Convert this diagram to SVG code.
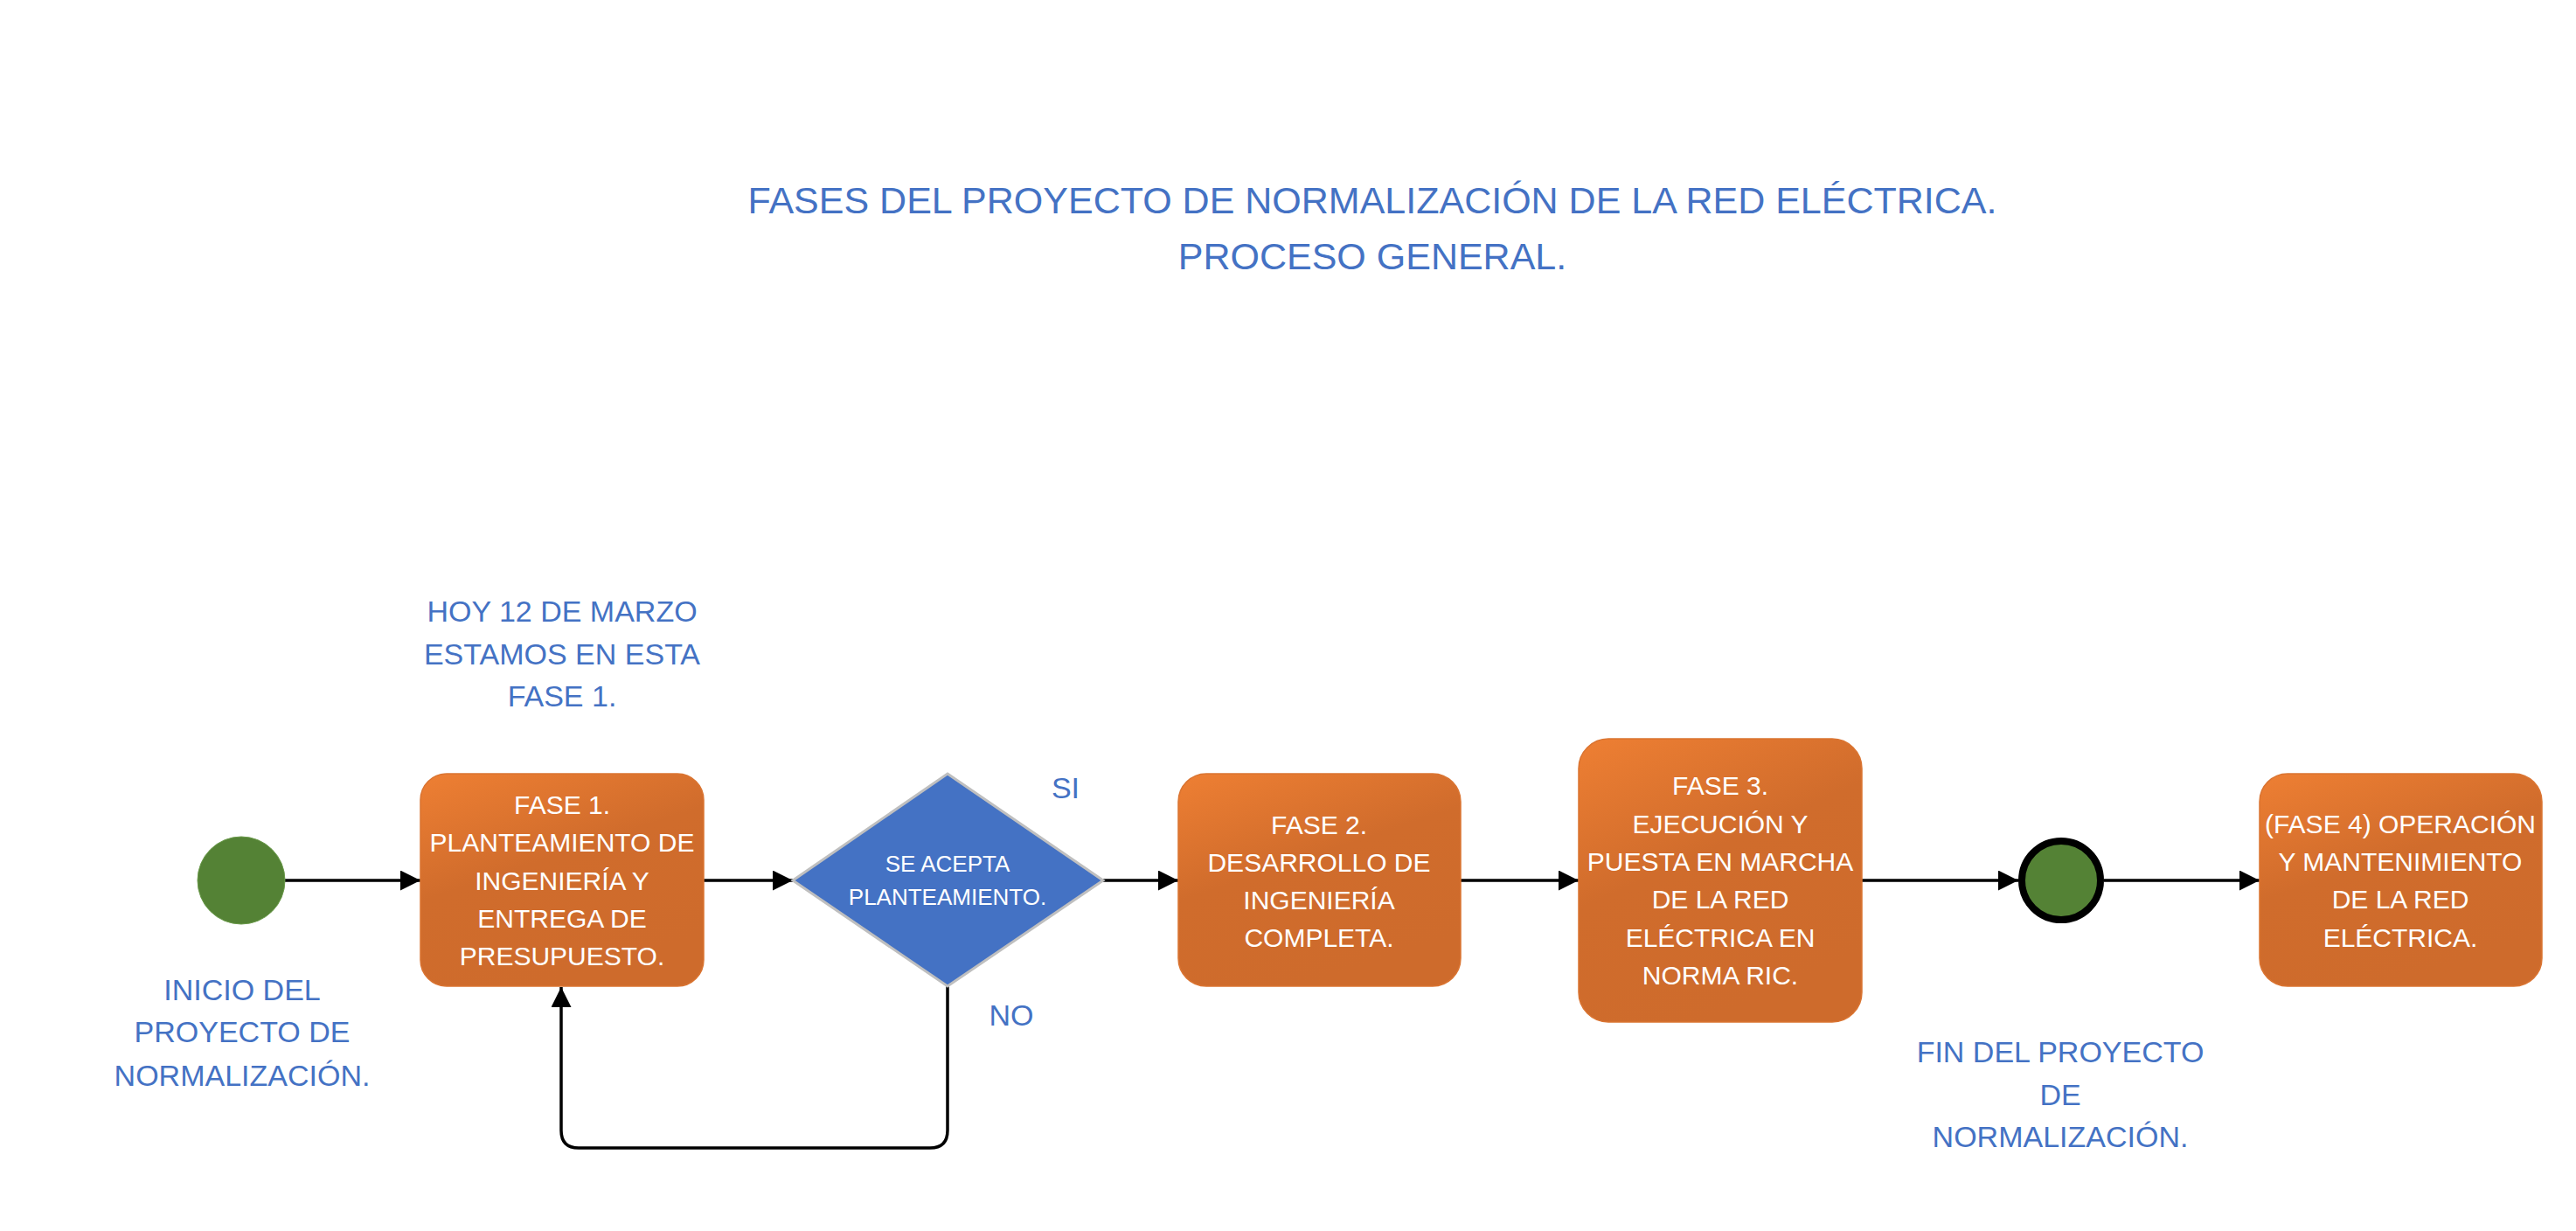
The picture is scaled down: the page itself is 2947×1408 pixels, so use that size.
<svg xmlns="http://www.w3.org/2000/svg" width="2947" height="1408" viewBox="0 0 2947 1408">
<style>
.lbl{font-family:"Liberation Sans",Arial,sans-serif;fill:#4472C4;text-anchor:middle;font-size:34px}
.ttl{font-family:"Liberation Sans",Arial,sans-serif;fill:#4472C4;text-anchor:middle;font-size:43px}
.bt{font-family:"Liberation Sans",Arial,sans-serif;fill:#FFFFFF;text-anchor:middle;font-size:30px}
.dt{font-family:"Liberation Sans",Arial,sans-serif;fill:#FFFFFF;text-anchor:middle;font-size:26px}
.box{fill:url(#og);stroke:#DA7431;stroke-width:1.5}
.con{fill:none;stroke:#000;stroke-width:3.5}
</style>
<defs>
<linearGradient id="og" x1="0" y1="0" x2="0.45" y2="1">
<stop offset="0" stop-color="#EE7F33"/>
<stop offset="0.5" stop-color="#D06C2C"/>
<stop offset="1" stop-color="#CE6B2C"/>
</linearGradient>
<marker id="ah" markerUnits="userSpaceOnUse" markerWidth="24" markerHeight="24" refX="23" refY="11.5" orient="auto">
<path d="M0,0 L23,11.5 L0,23 Z" fill="#000"/>
</marker>
</defs>
<rect width="2947" height="1408" fill="#FFFFFF"/>
<g id="title">
<text class="ttl" x="1570" y="244">FASES DEL PROYECTO DE NORMALIZACIÓN DE LA RED ELÉCTRICA.</text>
<text class="ttl" x="1570" y="308">PROCESO GENERAL.</text>
</g>
<g id="connectors">
<line class="con" x1="326" y1="1007" x2="481" y2="1007" marker-end="url(#ah)"/>
<line class="con" x1="805" y1="1007" x2="907" y2="1007" marker-end="url(#ah)"/>
<line class="con" x1="1262" y1="1007" x2="1348" y2="1007" marker-end="url(#ah)"/>
<line class="con" x1="1671" y1="1007" x2="1806" y2="1007" marker-end="url(#ah)"/>
<line class="con" x1="2130" y1="1007" x2="2309" y2="1007" marker-end="url(#ah)"/>
<line class="con" x1="2407" y1="1007" x2="2585" y2="1007" marker-end="url(#ah)"/>
<path class="con" d="M1084,1128 L1084,1293 Q1084,1313 1064,1313 L662,1313 Q642,1313 642,1293 L642,1129" marker-end="url(#ah)"/>
<text class="lbl" x="1219" y="913">SI</text>
<text class="lbl" x="1157" y="1173">NO</text>
</g>
<g id="start">
<circle cx="276" cy="1007" r="50" fill="#548235" stroke="#6A9A4A" stroke-width="1"/>
<text class="lbl" x="277" y="1144">INICIO DEL</text>
<text class="lbl" x="277" y="1192">PROYECTO DE</text>
<text class="lbl" x="277" y="1242">NORMALIZACIÓN.</text>
</g>
<g id="note">
<text class="lbl" x="643" y="711">HOY 12 DE MARZO</text>
<text class="lbl" x="643" y="760">ESTAMOS EN ESTA</text>
<text class="lbl" x="643" y="808">FASE 1.</text>
</g>
<g id="fase1">
<rect class="box" x="481" y="885" width="324" height="243" rx="30"/>
<text class="bt" x="643" y="931">FASE 1.</text>
<text class="bt" x="643" y="974">PLANTEAMIENTO DE</text>
<text class="bt" x="643" y="1018">INGENIERÍA Y</text>
<text class="bt" x="643" y="1061">ENTREGA DE</text>
<text class="bt" x="643" y="1104">PRESUPUESTO.</text>
</g>
<g id="decision">
<polygon points="1084,885 1262,1007 1084,1128 907,1007" fill="#4472C4" stroke="#BFBFBF" stroke-width="3"/>
<text class="dt" x="1084" y="997">SE ACEPTA</text>
<text class="dt" x="1084" y="1035">PLANTEAMIENTO.</text>
</g>
<g id="fase2">
<rect class="box" x="1348" y="885" width="323" height="243" rx="32"/>
<text class="bt" x="1509" y="954">FASE 2.</text>
<text class="bt" x="1509" y="997">DESARROLLO DE</text>
<text class="bt" x="1509" y="1040">INGENIERÍA</text>
<text class="bt" x="1509" y="1083">COMPLETA.</text>
</g>
<g id="fase3">
<rect class="box" x="1806" y="845" width="324" height="324" rx="34"/>
<text class="bt" x="1968" y="909">FASE 3.</text>
<text class="bt" x="1968" y="953">EJECUCIÓN Y</text>
<text class="bt" x="1968" y="996">PUESTA EN MARCHA</text>
<text class="bt" x="1968" y="1039">DE LA RED</text>
<text class="bt" x="1968" y="1083">ELÉCTRICA EN</text>
<text class="bt" x="1968" y="1126">NORMA RIC.</text>
</g>
<g id="end">
<circle cx="2358" cy="1007" r="45" fill="#548235" stroke="#000" stroke-width="8"/>
<text class="lbl" x="2357" y="1215">FIN DEL PROYECTO</text>
<text class="lbl" x="2357" y="1264">DE</text>
<text class="lbl" x="2357" y="1312">NORMALIZACIÓN.</text>
</g>
<g id="fase4">
<rect class="box" x="2585" y="885" width="323" height="243" rx="32"/>
<text class="bt" x="2746" y="953">(FASE 4) OPERACIÓN</text>
<text class="bt" x="2746" y="996">Y MANTENIMIENTO</text>
<text class="bt" x="2746" y="1039">DE LA RED</text>
<text class="bt" x="2746" y="1083">ELÉCTRICA.</text>
</g>
</svg>
